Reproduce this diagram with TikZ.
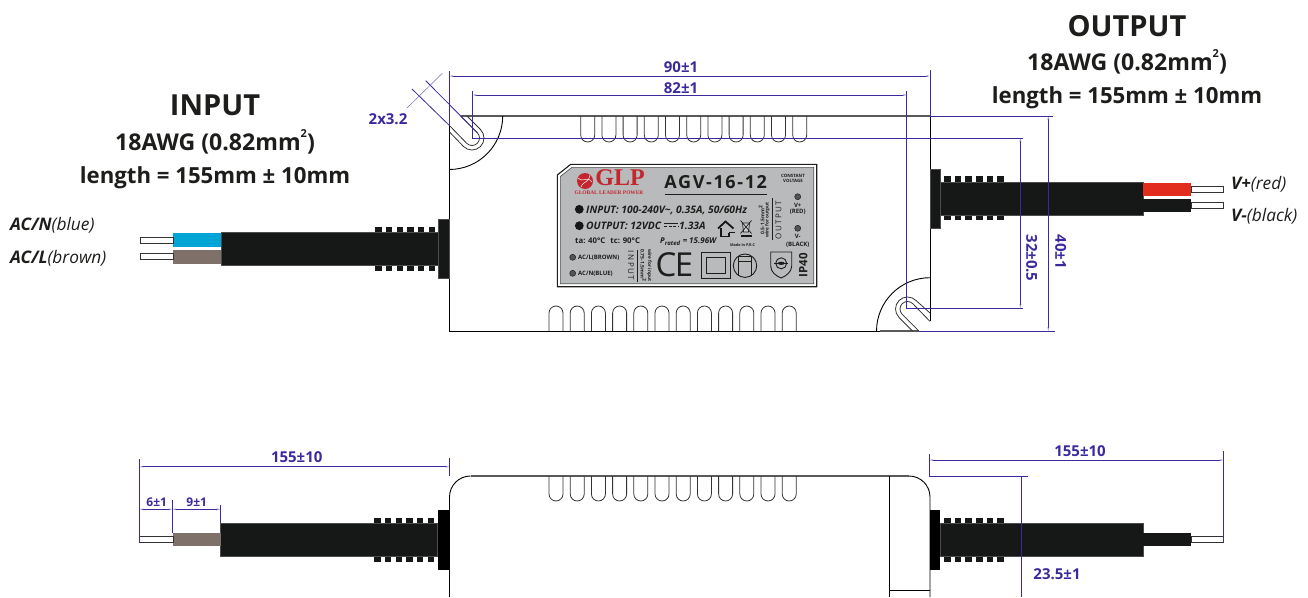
\documentclass[tikz,border=0pt]{standalone}
\usepackage{fontspec}
\setmainfont{Open Sans}
\newfontfamily\glpfont{Liberation Serif}
\newfontfamily\agvfont[LetterSpace=9]{Open Sans}
\newfontfamily\outfont[LetterSpace=18]{Open Sans}
\usetikzlibrary{arrows.meta}
\definecolor{dimblue}{HTML}{3A2A9E}
\definecolor{cableblack}{HTML}{161817}
\definecolor{inkdark}{HTML}{1D1D1B}
\definecolor{wireblue}{HTML}{00A5D6}
\definecolor{wirebrown}{HTML}{80706A}
\definecolor{wirered}{HTML}{E22D1C}
\definecolor{plategray}{HTML}{B8BABC}
\definecolor{glpred}{HTML}{C4262E}

\begin{document}
\begin{tikzpicture}[x=1pt,y=-1pt,inner sep=0pt,
                   body/.style={draw=black,line width=.9pt},
                   bodygray/.style={draw=black!65,line width=1.1pt},
                   fin/.style={draw=black!80,line width=.8pt},
                   cable/.style={fill=cableblack,draw=black!70,line width=.3pt},
                   tip/.style={fill=white,draw=black!80,line width=.7pt},
                   dimline/.style={draw=dimblue,line width=.8pt,{Stealth[length=4pt,width=2pt,color=dimblue!45]}-{Stealth[length=4pt,width=2pt,color=dimblue!45]}},
                   extline/.style={draw=dimblue,line width=.8pt},
                   dimtext/.style={text=dimblue,font=\fontsize{#1}{#1}\selectfont\bfseries},
                   dimtext/.default=15,
                   headtext/.style={text=inkdark,align=center,font=\fontsize{#1}{#1}\selectfont\bfseries},
                   wiretext/.style={text=inkdark,anchor=west,font=\fontsize{17.3}{17.3}\selectfont\itshape},
                   platetext/.style={text=inkdark,font=\fontsize{#1}{#1}\selectfont\bfseries},
                   specline/.style={text=inkdark,anchor=west,font=\fontsize{10.3}{10.3}\selectfont\bfseries\itshape},
                   screw/.style={draw=inkdark,line width=.5pt,fill=plategray!45!black,radius=3}]
\useasboundingbox (0,0) rectangle (1308,597);

\node[headtext=29] (inputhead) at (215,105) {INPUT};
\node[headtext=23.1] (inputwire) at (215,143.5) {18AWG (0.82mm\smash{\raisebox{.55em}{\fontsize{11}{11}\selectfont 2}})};
\node[headtext=22.2] (inputlen) at (215,177.5) {length = 155mm ± 10mm};
\node[headtext=29] (outputhead) at (1127,26) {OUTPUT};
\node[headtext=23.1] (outputwire) at (1127,63.5) {18AWG (0.82mm\smash{\raisebox{.55em}{\fontsize{11}{11}\selectfont 2}})};
\node[headtext=22.2] (outputlen) at (1127,97.5) {length = 155mm ± 10mm};
\node[wiretext] (acn) at (10,225) {\textbf{AC/N}(blue)};
\node[wiretext] (acl) at (10,258) {\textbf{AC/L}(brown)};
\node[wiretext] (vplus) at (1231,184) {\textbf{V+}(red)};
\node[wiretext] (vminus) at (1231,216) {\textbf{V-}(black)};

\draw[body] (449.5,125.6) -- (449.5,331) -- (880,331);
\draw[bodygray] (880,331) -- (918.9,331);
\draw[bodygray] (460.6,116) -- (930,116);
\draw[body] (930,116) -- (930,321.4);
\draw[body] (502.7,116) arc[start angle=0,end angle=90,radius=53.5];
\draw[body] (930,277.7) arc[start angle=270,end angle=180,radius=53.5];
\draw[fin] (449.5,132) -- (463.5,146.5) arc[start angle=135,end angle=-45,radius=12] -- (467,116);
\draw[fin] (449.5,125.6) -- (466.7,143.3) arc[start angle=135,end angle=-45,radius=7.5] -- (460.6,116);
\draw[fin] (930,313) -- (916,300.5) arc[start angle=-45,end angle=-225,radius=12] -- (912.5,331);
\draw[fin] (930,321.4) -- (912.8,303.7) arc[start angle=-45,end angle=-225,radius=7.5] -- (918.9,331);
\foreach \i in {0,...,10}
  \draw[fin] ({580.7+\i*21.2},116) -- ++(0,19) arc[start angle=180,end angle=0,radius=7] -- ++(0,-19);
\foreach \i in {0,...,11}
  \draw[fin] ({549+\i*21.2},331) -- ++(0,-18) arc[start angle=180,end angle=360,radius=7] -- ++(0,18);

\fill[cableblack,draw=black!70,line width=.3pt] (438.3,219) rectangle (449.5,278.3);
\foreach \i in {0,...,5}
  \fill[cableblack] ({375.3+\i*10.67},226.7) rectangle ++(6.5,44);
\path[cable] (221,232.3) rectangle (438.3,265);
\fill[wireblue] (173,233.3) rectangle (221,246.7);
\fill[wirebrown] (173,250) rectangle (221,263.5);
\path[tip] (140,237.3) rectangle (173,243.3);
\path[tip] (140,253.7) rectangle (173,259.7);

\fill[cableblack,draw=black!70,line width=.3pt] (930,169) rectangle (940.3,228);
\foreach \i in {0,...,5}
  \fill[cableblack] ({944+\i*10.67},176) rectangle ++(6.5,44);
\path[cable] (940.3,181.7) rectangle (1143.3,215);
\fill[wirered] (1143.3,182.7) rectangle (1191,195.7);
\fill[cableblack] (1143.3,199.3) rectangle (1191,212.3);
\path[tip] (1191,186.7) rectangle (1223.3,192.3);
\path[tip] (1191,202.7) rectangle (1223.3,208);

\coordinate (w90a) at (449.5,76);
\coordinate (w90b) at (930,76);
\coordinate (w82a) at (472.5,95);
\coordinate (w82b) at (906.8,95);
\coordinate (h32a) at (1020.3,138);
\coordinate (h32b) at (1020.3,308);
\coordinate (h40a) at (1048.3,116);
\coordinate (h40b) at (1048.3,331);
\draw[dimline] (w90a) -- (w90b);
\draw[dimline] (w82a) -- (w82b);
\draw[dimline] (h32a) -- (h32b);
\draw[dimline] (h40a) -- (h40b);
\draw[extline] (449.5,71) -- (449.5,125.6);
\draw[extline] (930,70) -- (930,116);
\draw[extline] (472.5,91) -- (472.5,138) -- (1022.5,138);
\draw[extline] (906.8,91) -- (906.8,308) -- (1022.5,308);
\draw[extline] (930,116) -- (1053,116);
\draw[extline] (918.9,331) -- (1055,331);
\draw[extline] (412,89) -- (449.5,125.6);
\draw[extline] (425.7,80.7) -- (477.3,132.7);
\draw[draw=dimblue!70,line width=.5pt] (406.7,108.3) -- (442.3,73.3);
\node[dimtext] (dim90) at (681,67) {90±1};
\node[dimtext] (dim82) at (681,88) {82±1};
\node[dimtext] (dimslot) at (388,119) {2x3.2};
\node[dimtext,rotate=-90] (dim32) at (1031.7,258) {32±0.5};
\node[dimtext,rotate=-90] (dim40) at (1060.7,251.7) {40±1};

\draw[draw=inkdark,line width=1.1pt] (557.3,175) -- (570.7,164.3) -- (816.7,164.3) -- (816.7,286.7) -- (557.3,286.7) -- cycle;
\draw[draw=black!70,line width=.6pt,fill=plategray] (560.3,176.5) -- (572,167.3) -- (813.7,167.3) -- (813.7,283.7) -- (560.3,283.7) -- cycle;
\fill[glpred] (585,181) circle[radius=8];
\draw[white,line width=.5pt] (578,178) .. controls (583,183) and (588,176) .. (592,182);
\draw[white,line width=.5pt] (581,187) .. controls (584,180) and (588,184) .. (590,175);
\node[text=glpred,font=\fontsize{24}{24}\selectfont\glpfont\bfseries] (glp) at (620,177.5) {GLP};
\node[text=glpred,font=\fontsize{5.4}{5.4}\selectfont\glpfont\bfseries] (glpsub) at (609,193) {GLOBAL LEADER POWER};
\node[platetext=18,font=\fontsize{18}{18}\selectfont\agvfont\bfseries] (model) at (715.7,181.7) {AGV-16-12};
\draw[draw=inkdark,line width=.9pt] (665,194) -- (766.7,194);
\node[platetext=4.4,align=center] (constant) at (793,178.5) {CONSTANT\\[.6pt]VOLTAGE};
\fill[cableblack] (579.3,209.3) circle[radius=4.4];
\fill[cableblack] (579.3,225.7) circle[radius=4.4];
\node[specline] (inputspec) at (586,210) {INPUT: 100-240V\textasciitilde, 0.35A, 50/60Hz};
\node[specline] (outputspec) at (586,225.7) {OUTPUT: 12VDC};
\draw[draw=inkdark,line width=.8pt] (664,223.5) -- (678,223.5);
\draw[draw=inkdark,line width=.8pt,dash pattern=on 3pt off 1.5pt] (664,226.5) -- (678,226.5);
\node[specline] (outputamp) at (679,225.7) {1.33A};
\node[platetext=7.8,anchor=west] (tatc) at (575,241) {ta: 40°C\hspace{5pt}tc: 90°C};
\node[platetext=8,anchor=west,font=\fontsize{8}{8}\selectfont\bfseries\itshape] (prated) at (660,242) {P\textsubscript{rated} = 15.96W};
\draw[draw=cableblack,line width=1.8pt] (718,228.5) -- (725.5,221.5) -- (733.5,228.5);
\draw[draw=cableblack,line width=1.6pt] (721,228) -- (721,236.5) -- (728,236.5);
\draw[draw=cableblack,line width=1.3pt] (729,232.5) -- (729,236.5) (729,232.5) -- (735,232.5);
\draw[draw=inkdark,line width=.7pt,fill=plategray!70] (742.5,223) -- (749.5,223) -- (748.5,232) -- (743.5,232) -- cycle;
\draw[draw=inkdark,line width=.7pt] (740.5,220.5) -- (751.5,233.5) (751.5,220.5) -- (740.5,233.5);
\fill[cableblack] (741,234.5) rectangle (751.5,236.5);
\node[platetext=3.8] (madein) at (742.5,245) {Made in P.R.C};
\node[platetext=5,rotate=90] (wireout) at (761.7,220) {0.5-1.5mm\textsuperscript{2}};
\node[platetext=4.7,rotate=90] (wireoutb) at (767.3,220) {wire for output};
\draw[draw=inkdark,line width=.6pt] (772.7,198) -- (772.7,240);
\node[platetext=8,rotate=90,font=\fontsize{8}{8}\selectfont\outfont] (outlabel) at (778.5,220) {OUTPUT};
\path[screw] (797.7,196.7) circle;
\node[platetext=6] (vplate) at (797.7,205) {V+};
\node[platetext=6] (redplate) at (797.7,212.3) {(RED)};
\path[screw] (797.7,228.3) circle;
\node[platetext=6] (vmplate) at (797.7,236.7) {V-};
\node[platetext=6] (blackplate) at (797.7,244.3) {(BLACK)};
\path[screw] (572.7,257.3) circle;
\node[platetext=6,anchor=west] (aclplate) at (578,257.3) {AC/L(BROWN)};
\path[screw] (572.7,273.3) circle;
\node[platetext=6,anchor=west] (acnplate) at (578,273.3) {AC/N(BLUE)};
\node[platetext=8,rotate=-90,font=\fontsize{8}{8}\selectfont\outfont] (inlabel) at (631,265.5) {INPUT};
\draw[draw=inkdark,line width=.6pt] (637.3,250) -- (637.3,281.7);
\node[platetext=5,rotate=-90] (wirein) at (643.3,265.5) {0.75-1.5mm\textsuperscript{2}};
\node[platetext=4.7,rotate=-90] (wireinb) at (649.3,265.5) {wire for input};
\node[text=inkdark,font=\fontsize{33}{33}\selectfont] (cmark) at (666,264.5) {C};
\node[text=inkdark,font=\fontsize{33}{33}\selectfont] (emark) at (684,264.5) {E};
\draw[draw=inkdark,line width=1pt] (701.7,252.3) rectangle (730,278.3);
\draw[draw=inkdark,line width=1pt] (706.7,257.3) rectangle (725,273.3);
\draw[draw=inkdark,line width=.9pt] (745,265.7) circle[radius=11.7];
\draw[draw=inkdark,line width=.9pt] (738.5,275.5) -- (738.5,256.5) -- (751.5,256.5) -- (751.5,275.5);
\draw[draw=inkdark,line width=.9pt] (738.5,261.5) -- (751.5,261.5);
\draw[draw=inkdark,line width=.9pt] (770.7,252) -- (791.7,252) -- (791.7,266) .. controls (791.7,272) and (786,276) .. (781.2,278) .. controls (776,276) and (770.7,272) .. (770.7,266) -- cycle;
\draw[draw=inkdark,line width=.9pt] (781.2,263.3) circle[radius=5.5];
\draw[draw=inkdark,line width=.9pt] (774,263.3) -- (788.4,263.3);
\fill[inkdark] (781.2,263.3) ellipse[x radius=3.6,y radius=1.6];
\node[platetext=11.5,rotate=90] (ipmark) at (803.3,265) {IP40};

\draw[bodygray] (470.5,476) -- (909,476);
\draw[body] (449.5,597) -- (449.5,497) arc[start angle=180,end angle=270,radius=21] -- (470.5,476);
\draw[body] (909,476) arc[start angle=270,end angle=360,radius=21] -- (930,597);
\draw[body] (889.3,476) -- (889.3,597);
\draw[body] (889.3,590.7) -- (930,590.7);
\foreach \i in {0,...,11}
  \draw[fin] ({549+\i*21.2},476) -- ++(0,18) arc[start angle=180,end angle=0,radius=7] -- ++(0,-18);

\fill[black] (437.5,510) rectangle (449.5,570);
\foreach \i in {0,...,5}
  \fill[cableblack] ({374.3+\i*10.67},518.3) rectangle ++(6.5,43.4);
\path[cable] (220.5,522.7) rectangle (437.5,556);
\fill[wirebrown] (173,533) rectangle (220.5,546.3);
\path[tip] (139.5,536.7) rectangle (173,542.3);

\fill[black] (929.5,510) rectangle (940.3,570);
\foreach \i in {0,...,5}
  \fill[cableblack] ({944+\i*10.67},518.3) rectangle ++(6.5,43.4);
\path[cable] (940.3,522.7) rectangle (1143,556);
\fill[cableblack] (1143,533.3) rectangle (1191,546.3);
\path[tip] (1191,536.7) rectangle (1223.3,542.3);

\coordinate (l155a) at (139.5,466.7);
\coordinate (l155b) at (449.5,466.7);
\coordinate (l6a) at (139.5,509.3);
\coordinate (l6b) at (172.5,509.3);
\coordinate (l9b) at (220.5,509.3);
\coordinate (r155a) at (929.5,460);
\coordinate (r155b) at (1223.3,460);
\coordinate (r23a) at (1021,476.3);
\coordinate (r23b) at (1021,597);
\draw[dimline] (l155a) -- (l155b);
\draw[dimline] (l6a) -- (l6b);
\draw[dimline] (l6b) -- (l9b);
\draw[dimline] (r155a) -- (r155b);
\draw[extline] (r23a) -- (r23b);
\draw[extline] (139.5,459) -- (139.5,543);
\draw[extline] (449.5,458) -- (449.5,476);
\draw[extline] (172.5,500) -- (172.5,533);
\draw[extline] (220.5,505) -- (220.5,523);
\draw[extline] (929.5,454) -- (929.5,476.3) -- (1027.7,476.3);
\draw[extline] (1223.3,451) -- (1223.3,543);
\node[dimtext] (dimleft) at (296.7,457) {155±10};
\node[dimtext=12] (dimsix) at (156.7,502) {6±1};
\node[dimtext=12] (dimnine) at (196.7,502) {9±1};
\node[dimtext] (dimright) at (1080,451) {155±10};
\node[dimtext] (dimcase) at (1057,574) {23.5±1};
\end{tikzpicture}
\end{document}
